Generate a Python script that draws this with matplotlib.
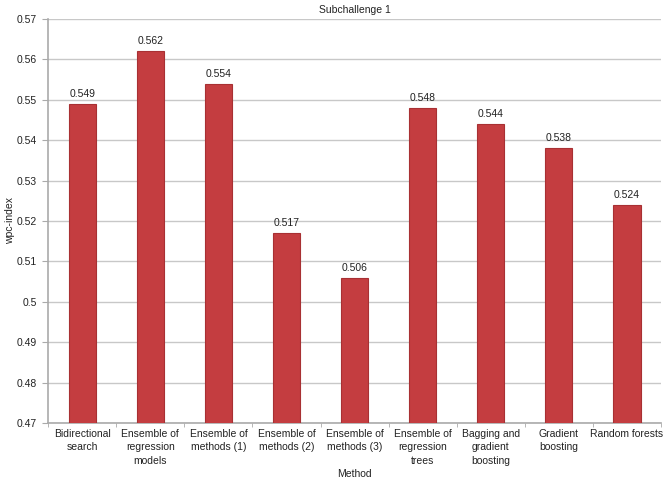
import numpy as np
import matplotlib.pyplot as plt

plt.rcParams['font.family'] = ['Liberation Sans', 'DejaVu Sans']

methods = ["Bidirectional\nsearch", "Ensemble of\nregression\nmodels",
           "Ensemble of\nmethods (1)", "Ensemble of\nmethods (2)",
           "Ensemble of\nmethods (3)", "Ensemble of\nregression\ntrees",
           "Bagging and\ngradient\nboosting", "Gradient\nboosting",
           "Random forests"]
wpc = [0.549, 0.562, 0.554, 0.517, 0.506, 0.548, 0.544, 0.538, 0.524]
yticks = np.round(np.arange(0.47, 0.5701, 0.01), 2)

fig = plt.figure(figsize=(6.69, 4.82), dpi=100)
ax = fig.add_axes([0.072, 0.122, 0.916, 0.839])

x = np.arange(len(methods))
ax.bar(x, wpc, width=0.4, color='#c43d40', edgecolor='#a83033', linewidth=0.8, zorder=3)
for xi, v in zip(x, wpc):
    ax.text(xi, v + 0.0012, "{:.3f}".format(v), ha='center', va='bottom', fontsize=7.5, color='#222222')

ax.set_xlim(-0.5, len(methods) - 0.5)
ax.set_ylim(0.47, 0.57)
ax.set_yticks(yticks)
ax.set_yticklabels(["{:g}".format(t) for t in yticks], fontsize=7.5, color='#222222')
ax.set_xticks(x)
ax.set_xticklabels(methods, fontsize=7.5, color='#222222', linespacing=1.45)
ax.set_xticks(np.arange(-0.5, len(methods), 1), minor=True)
ax.tick_params(axis='x', which='major', length=0, pad=4)
ax.tick_params(axis='x', which='minor', length=3, color='#aaaaaa')
ax.tick_params(axis='y', length=4, color='#aaaaaa', pad=4)

ax.grid(axis='y', color='#c8c8c8', linewidth=1, zorder=0)
for s in ['top', 'right']:
    ax.spines[s].set_visible(False)
ax.spines['left'].set_color('#aaaaaa')
ax.spines['bottom'].set_color('#aaaaaa')
ax.spines['left'].set_linewidth(1.2)
ax.spines['bottom'].set_linewidth(1.2)

ax.set_title("Subchallenge 1", fontsize=7.5, color='#222222', pad=4)
ax.set_ylabel("wpc-index", fontsize=7.5, color='#222222', labelpad=1)
ax.set_xlabel("Method", fontsize=7.5, color='#222222', labelpad=2)

plt.savefig('out.png', dpi=100)
